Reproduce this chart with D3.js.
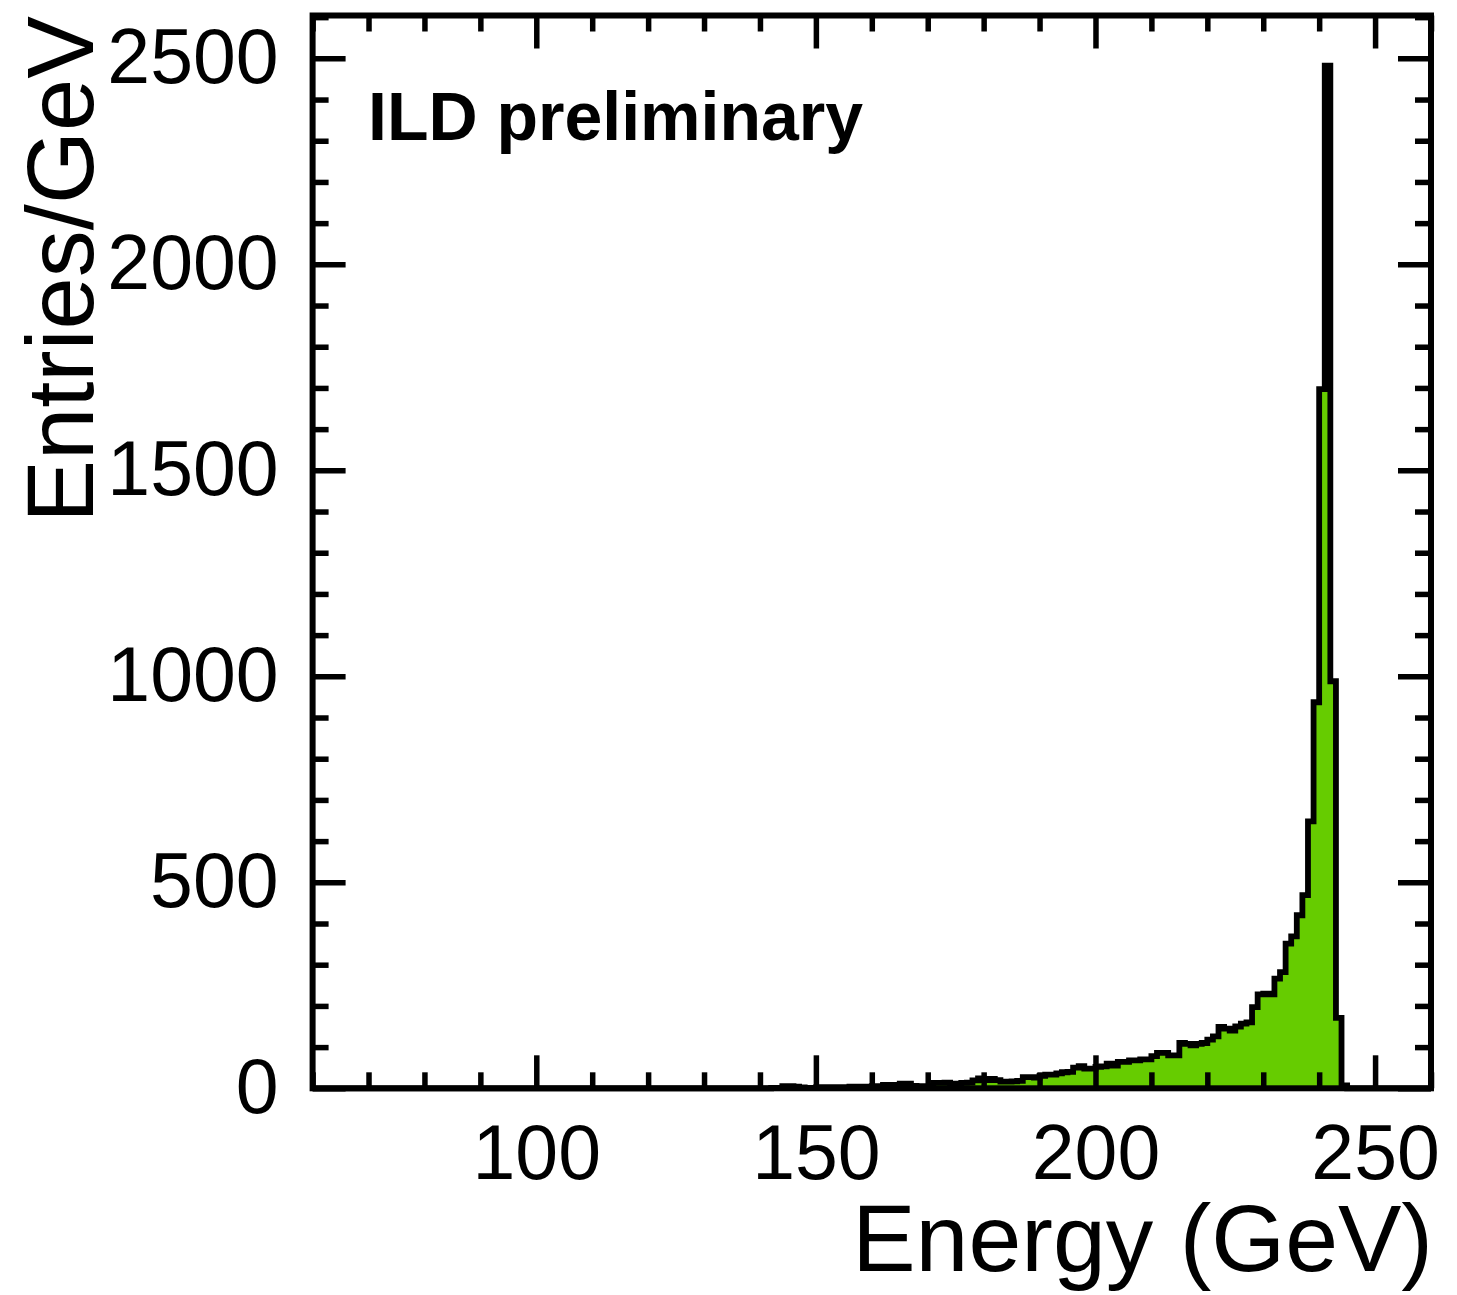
<!DOCTYPE html>
<html>
<head>
<meta charset="utf-8">
<script src="https://cdn.jsdelivr.net/npm/d3@7"></script>
<style>
  body { margin: 0; background: #fff; }
  svg { display: block; font-family: "Liberation Sans", Arial, Helvetica, sans-serif; }
</style>
</head>
<body>
<svg id="chart" width="1457" height="1295"></svg>
<script>
// histogram: 1 GeV bins, first filled bin starts at 140 GeV
const xRange = [60, 260];
const yMax = 2604;
const firstBin = 140;
const binWidth = 1;
const counts = [
  0, 0, 1, 1, 5, 5, 4, 2, 1, 1,            // 140-149
  2, 3, 3, 3, 2, 3, 4, 4, 3, 4,            // 150-159
  5, 5, 8, 8, 5, 11, 11, 6, 4, 5,          // 160-169
  5, 13, 13, 14, 11, 11, 13, 14, 19, 24,   // 170-179
  20, 23, 20, 16, 16, 17, 18, 27, 27, 26,  // 180-189
  30, 33, 33, 36, 39, 40, 50, 54, 48, 48,  // 190-199
  52, 53, 60, 55, 64, 64, 68, 68, 70, 70,  // 200-209
  78, 86, 86, 80, 80, 110, 108, 104, 108, 110, // 210-219
  118, 126, 149, 145, 140, 150, 157, 160, 197, 228, // 220-229
  230, 228, 266, 282, 351, 369, 420, 469, 648, 937, // 230-239
  1697, 2482, 988, 171, 7                  // 240-244
];
const xMajorTicks = [100, 150, 200, 250];
const yMajorTicks = [0, 500, 1000, 1500, 2000, 2500];
const xTitle = "Energy (GeV)";
const yTitle = "Entries/GeV";
const label = "ILD preliminary";

const svg = d3.select("#chart");
const frame = { left: 312.6, right: 1431, top: 15.5, bottom: 1088.3 };

const x = d3.scaleLinear().domain(xRange).range([frame.left, frame.right]);
const y = d3.scaleLinear().domain([0, yMax]).range([frame.bottom, frame.top]);

const bins = counts.map((c, i) => ({ e: firstBin + i * binWidth, c }));
const pts = [{ e: xRange[0], c: 0 }]
  .concat(bins)
  .concat([{ e: firstBin + counts.length * binWidth, c: 0 }, { e: xRange[1], c: 0 }]);

svg.append("defs").append("clipPath").attr("id", "clip")
  .append("rect")
  .attr("x", frame.left).attr("y", frame.top)
  .attr("width", frame.right - frame.left)
  .attr("height", frame.bottom - frame.top);

const plot = svg.append("g").attr("clip-path", "url(#clip)");

plot.append("path")
  .datum(pts)
  .attr("fill", "#66cc00")
  .attr("d", d3.area().curve(d3.curveStepAfter)
    .x((d) => x(d.e)).y0(y(0)).y1((d) => y(d.c)));

svg.append("path")
  .datum(pts)
  .attr("fill", "none")
  .attr("stroke", "#000")
  .attr("stroke-width", 5.8)
  .attr("stroke-linejoin", "miter")
  .attr("d", d3.line().curve(d3.curveStepAfter)
    .x((d) => x(d.e)).y((d) => y(d.c)));

// axes: ticks pointing inward on all four sides
const tickW = 5.5;
const minorX = d3.range(60, 261, 10).filter((v) => !xMajorTicks.includes(v));
const minorY = d3.range(0, yMax, 100).filter((v) => !yMajorTicks.includes(v));
const fmt = d3.format("d");

function styleAxis(g) {
  g.select(".domain").remove();
  g.selectAll("line").attr("stroke-width", tickW);
  g.selectAll("text").attr("font-size", 77).attr("fill", "#000");
}

svg.append("g").attr("transform", `translate(0,${frame.bottom})`)
  .call(d3.axisBottom(x).tickValues(minorX).tickSize(-16).tickFormat(""))
  .call(styleAxis);
svg.append("g").attr("transform", `translate(0,${frame.bottom})`)
  .call(d3.axisBottom(x).tickValues(xMajorTicks).tickSize(-33).tickPadding(36).tickFormat(fmt))
  .call(styleAxis);
svg.append("g").attr("transform", `translate(0,${frame.top})`)
  .call(d3.axisTop(x).tickValues(minorX).tickSize(-16).tickFormat(""))
  .call(styleAxis);
svg.append("g").attr("transform", `translate(0,${frame.top})`)
  .call(d3.axisTop(x).tickValues(xMajorTicks).tickSize(-33).tickFormat(""))
  .call(styleAxis);

svg.append("g").attr("transform", `translate(${frame.left},0)`)
  .call(d3.axisLeft(y).tickValues(minorY).tickSize(-16).tickFormat(""))
  .call(styleAxis);
svg.append("g").attr("transform", `translate(${frame.left},0)`)
  .call(d3.axisLeft(y).tickValues(yMajorTicks).tickSize(-33).tickPadding(34).tickFormat(fmt))
  .call(styleAxis);
svg.append("g").attr("transform", `translate(${frame.right},0)`)
  .call(d3.axisRight(y).tickValues(minorY).tickSize(-16).tickFormat(""))
  .call(styleAxis);
svg.append("g").attr("transform", `translate(${frame.right},0)`)
  .call(d3.axisRight(y).tickValues(yMajorTicks).tickSize(-33).tickFormat(""))
  .call(styleAxis);

svg.append("rect")
  .attr("x", frame.left).attr("y", frame.top)
  .attr("width", frame.right - frame.left)
  .attr("height", frame.bottom - frame.top)
  .attr("fill", "none")
  .attr("stroke", "#000")
  .attr("stroke-width", 6);

svg.append("text")
  .attr("x", frame.right + 2)
  .attr("y", 1271)
  .attr("text-anchor", "end")
  .attr("font-size", 95)
  .text(xTitle);

svg.append("text")
  .attr("transform", "translate(93,16) rotate(-90)")
  .attr("text-anchor", "end")
  .attr("font-size", 94)
  .text(yTitle);

svg.append("text")
  .attr("x", 368)
  .attr("y", 140)
  .attr("font-size", 68)
  .attr("font-weight", "bold")
  .text(label);
</script>
</body>
</html>
